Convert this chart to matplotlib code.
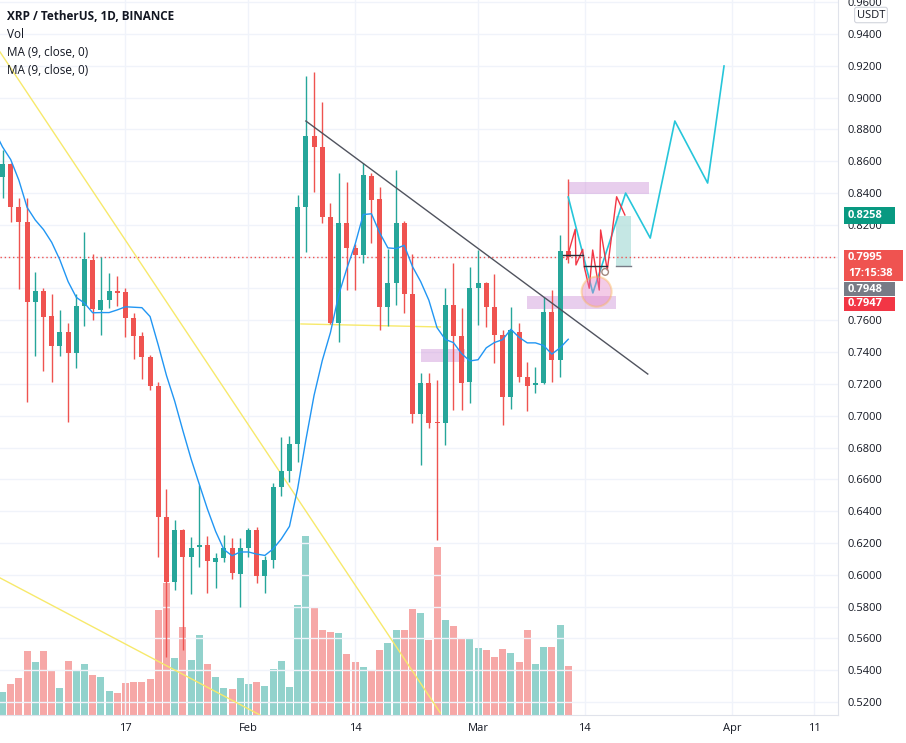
import numpy as np
import pandas as pd
import matplotlib
matplotlib.use("Agg")
import matplotlib.pyplot as plt
from matplotlib.patches import Rectangle, Ellipse

plt.rcParams['font.family'] = ['Open Sans', 'DejaVu Sans']

# XRP/USDT daily candles, 2022-01-02 .. 2022-03-12
start = pd.Timestamp('2022-01-02')
dates = pd.date_range(start, periods=70, freq='D')

opens = [0.8501, 0.8583, 0.8312, 0.8218, 0.7715, 0.7784, 0.7627, 0.7438, 0.7526, 0.7394,
         0.7690, 0.7979, 0.7665, 0.7728, 0.7784, 0.7778, 0.7614, 0.7501, 0.7369, 0.7187,
         0.6363, 0.5955, 0.6281, 0.6112, 0.6175, 0.6187, 0.6080, 0.6105, 0.6168, 0.6005,
         0.6168, 0.6281, 0.5992, 0.6093, 0.6552, 0.6652, 0.6822, 0.8312, 0.8759, 0.8690,
         0.8249, 0.7583, 0.8212, 0.8055, 0.8011, 0.8507, 0.8363, 0.7684, 0.7834, 0.8212,
         0.7765, 0.7011, 0.7206, 0.6962, 0.6955, 0.7696, 0.7501, 0.7212, 0.7803, 0.7834,
         0.7684, 0.7508, 0.7118, 0.7527, 0.7243, 0.7193, 0.7206, 0.7652, 0.7350, 0.8037]
highs = [0.8670, 0.8590, 0.8369, 0.8369, 0.7904, 0.7803, 0.7765, 0.7665, 0.7583, 0.7765,
         0.8155, 0.8017, 0.7998, 0.7897, 0.7878, 0.7803, 0.7646, 0.7526, 0.7382, 0.7215,
         0.6539, 0.6344, 0.6290, 0.6237, 0.6564, 0.6244, 0.6137, 0.6250, 0.6231, 0.6231,
         0.6294, 0.6300, 0.6118, 0.6577, 0.6866, 0.6873, 0.8388, 0.9136, 0.9161, 0.8972,
         0.8338, 0.8526, 0.8469, 0.8080, 0.8589, 0.8526, 0.8438, 0.8048, 0.8545, 0.8224,
         0.8017, 0.7269, 0.7269, 0.7225, 0.7803, 0.7960, 0.7677, 0.7935, 0.8042, 0.7841,
         0.7891, 0.7539, 0.7684, 0.7583, 0.7338, 0.7306, 0.7746, 0.7790, 0.8136, 0.8488]
lows = [0.8369, 0.8218, 0.7797, 0.7086, 0.7375, 0.7281, 0.7212, 0.7375, 0.6961, 0.7300,
        0.7564, 0.7602, 0.7508, 0.7677, 0.7690, 0.7495, 0.7357, 0.7231, 0.7162, 0.6112,
        0.5483, 0.5906, 0.5527, 0.5877, 0.6049, 0.5885, 0.5917, 0.6080, 0.5973, 0.5797,
        0.6112, 0.5948, 0.5885, 0.6043, 0.6495, 0.6583, 0.6709, 0.8029, 0.8407, 0.8212,
        0.7577, 0.7464, 0.7790, 0.7790, 0.7960, 0.8086, 0.7539, 0.7564, 0.7696, 0.7646,
        0.6954, 0.6690, 0.6923, 0.6219, 0.6816, 0.7036, 0.7036, 0.7080, 0.7570, 0.7558,
        0.7331, 0.6942, 0.7042, 0.7212, 0.7030, 0.7143, 0.7200, 0.7212, 0.7243, 0.7960]
closes = [0.8583, 0.8312, 0.8218, 0.7715, 0.7784, 0.7621, 0.7438, 0.7526, 0.7394, 0.7690,
          0.7985, 0.7671, 0.7728, 0.7784, 0.7772, 0.7614, 0.7501, 0.7369, 0.7187, 0.6363,
          0.5955, 0.6281, 0.6112, 0.6168, 0.6187, 0.6088, 0.6105, 0.6168, 0.6011, 0.6168,
          0.6281, 0.5992, 0.6093, 0.6552, 0.6652, 0.6822, 0.8312, 0.8759, 0.8690, 0.8249,
          0.7583, 0.8212, 0.8055, 0.8011, 0.8513, 0.8356, 0.7684, 0.7834, 0.8212, 0.7765,
          0.7011, 0.7206, 0.6956, 0.6955, 0.7696, 0.7501, 0.7206, 0.7803, 0.7834, 0.7684,
          0.7508, 0.7118, 0.7539, 0.7243, 0.7187, 0.7206, 0.7652, 0.7350, 0.8037, 0.7995]
# closes Dec 24 .. Jan 1 (off screen, only feed the MA)
prior_closes = [0.950, 0.903, 0.939, 0.925, 0.850, 0.816, 0.816, 0.852, 0.862]

# volume, relative units
volume = [23, 31, 37, 64, 53, 64, 44, 27, 54, 44, 51, 40, 38, 24, 22, 32, 33, 33, 36, 105,
          132, 57, 88, 55, 80, 51, 38, 27, 26, 37, 31, 33, 29, 46, 54, 28, 110, 179, 107, 85,
          83, 82, 61, 53, 48, 44, 65, 72, 85, 85, 106, 102, 75, 168, 95, 89, 76, 76, 67, 65,
          58, 66, 62, 53, 85, 51, 68, 68, 90, 49]

# drawings (day index from Jan 2, price)
proj_x = [69, 72, 76, 79, 82, 86, 88]
proj_y = [0.8375, 0.7772, 0.8400, 0.8117, 0.8853, 0.8463, 0.9199]
zig_x = [68.8, 69.85, 69.94, 70.76, 70.95, 71.56, 71.98, 72.78, 72.95, 73.76, 74.9, 75.91]
zig_y = [0.7983, 0.8172, 0.7948, 0.8046, 0.7937, 0.7801, 0.8042, 0.7790, 0.8168, 0.7916, 0.8377, 0.8262]
trend_x, trend_y = [37, 78.7], [0.8853, 0.7262]
yellow_lines = [([-0.3, 53.4], [0.9287, 0.5131]),
                ([-0.3, 31.4], [0.5980, 0.5118]),
                ([36.4, 53.4], [0.7577, 0.7558])]
zones = [(51.1, 56.4, 0.7338, 0.7420), (64.0, 74.8, 0.7671, 0.7753), (69.0, 78.8, 0.8394, 0.8470)]

GREEN, RED = '#26a69a', '#ef5350'

fig = plt.figure(figsize=(9.06, 7.43), dpi=100)
ax = fig.add_axes([0, 28 / 743, 838 / 906, 715 / 743])
axv = ax.twinx()
ax.set_zorder(axv.get_zorder() + 1)
ax.patch.set_visible(False)

x = np.arange(len(dates))
o, h, l, c = map(np.array, (opens, highs, lows, closes))
col = np.where(c >= o, GREEN, RED)

# volume
axv.bar(x, volume, width=0.85, color=col, alpha=0.5, linewidth=0)
axv.set_ylim(0, 715)
axv.set_yticks([])
for s in axv.spines.values():
    s.set_visible(False)

# grid
yt = np.round(np.arange(0.52, 0.961, 0.02), 2)
tick_days = ['2022-01-17', '2022-02-01', '2022-02-14', '2022-03-01', '2022-03-14', '2022-04-01', '2022-04-11']
tick_lbl = ['17', 'Feb', '14', 'Mar', '14', 'Apr', '11']
xt = [(pd.Timestamp(d) - start).days for d in tick_days]
for v in yt:
    ax.axhline(v, color='#f0f3fa', lw=1, zorder=0)
for v in xt:
    ax.axvline(v, color='#f0f3fa', lw=1, zorder=0)

# yellow lines
for lx, ly in yellow_lines:
    ax.plot(lx, ly, color='#f7e96b', lw=1, zorder=1)

# zones
for x0, x1, y0, y1 in zones:
    ax.add_patch(Rectangle((x0, y0), x1 - x0, y1 - y0, facecolor='#ce93d8', alpha=0.45, lw=0, zorder=1))
ax.add_patch(Rectangle((74.8, 0.7941), 1.9, 0.8256 - 0.7941, facecolor='#b2dfdb', alpha=0.75, lw=0, zorder=1))
ax.plot([74.8, 76.7], [0.7941, 0.7941], color='#787b86', lw=1, zorder=2)

# candles
ax.vlines(x, l, h, colors=col, lw=1, zorder=3)
body_lo = np.minimum(o, c)
body_h = np.maximum(np.abs(c - o), 0.0008)
ax.bar(x, body_h, bottom=body_lo, width=0.62, color=col, lw=0, zorder=4)

# MA (9, close)
ma = pd.Series(prior_closes + closes).rolling(9).mean().to_numpy()[8:]
ax.plot(np.arange(-1, len(closes)), ma, color='#2196f3', lw=1, zorder=5)

# trend line + projection drawings
ax.plot(trend_x, trend_y, color='#50535e', lw=1, zorder=5)
ax.plot(proj_x, proj_y, color='#26c6da', lw=1.2, zorder=6)
ax.plot(zig_x, zig_y, color='#f23645', lw=1, zorder=6)
ax.plot([68.4, 70.8], [0.8011, 0.8011], color='#2a2e39', lw=1, zorder=6)
ax.plot([70.9, 73.7], [0.7943, 0.7943], color='#2a2e39', lw=1, zorder=6)
ax.add_patch(Ellipse((72.46, 0.778), 3.66, 0.0189, facecolor='#e57fc4', alpha=0.4,
                     edgecolor='#ffb74d', lw=1.5, zorder=6))
ax.add_patch(Ellipse((73.5, 0.7904), 0.8, 0.0042, facecolor='none', edgecolor='#a1887f', lw=1, zorder=6))

# last price line
ax.axhline(0.7995, color=RED, lw=1, ls=(0, (1, 2)), zorder=2)

ax.set_xlim(-0.305, 101.9)
ax.set_ylim(0.5118, 0.9614)
ax.yaxis.tick_right()
ax.set_yticks(yt)
ax.set_yticklabels([f'{v:.4f}' for v in yt])
ax.set_xticks(xt)
ax.set_xticklabels(tick_lbl)
ax.tick_params(axis='y', length=0, pad=7, labelsize=8, labelcolor='#131722')
ax.tick_params(axis='x', length=0, pad=6, labelsize=8, labelcolor='#131722')
for side in ('top', 'left'):
    ax.spines[side].set_visible(False)
for side in ('bottom', 'right'):
    ax.spines[side].set_color('#e0e3eb')

# legend text
fig.text(7 / 906, 1 - 16 / 743, 'XRP / TetherUS, 1D, BINANCE', fontsize=8.5, fontweight='bold',
         color='#131722', va='center')
for yy, t in [(34, 'Vol'), (52, 'MA (9, close, 0)'), (70, 'MA (9, close, 0)')]:
    fig.text(7 / 906, 1 - yy / 743, t, fontsize=8.5, color='#131722', va='center')

# right axis price labels
def price_box(y0, y1, x1, color, lines):
    fig.add_artist(Rectangle((844 / 906, 1 - y1 / 743), (x1 - 844) / 906, (y1 - y0) / 743,
                             transform=fig.transFigure, facecolor=color, lw=0, zorder=10))
    n = len(lines)
    for k, t in enumerate(lines):
        yy = y0 + (y1 - y0) * (k + 0.5) / n
        fig.text(848 / 906, 1 - yy / 743, t, fontsize=8, fontweight='bold', color='white',
                 va='center', zorder=11)

price_box(207, 224, 895, '#089981', ['0.8258'])
price_box(250, 281, 903, '#ef5350', ['0.7995', '17:15:38'])
price_box(282, 296, 895, '#787b86', ['0.7948'])
price_box(297, 311, 895, '#f23645', ['0.7947'])

fig.text(871 / 906, 1 - 15 / 743, 'USDT', fontsize=8, color='#131722', ha='center', va='center',
         bbox=dict(boxstyle='round,pad=0.2', facecolor='white', edgecolor='#d1d4dc', lw=0.8))

fig.savefig('out.png', dpi=100, facecolor='white')
